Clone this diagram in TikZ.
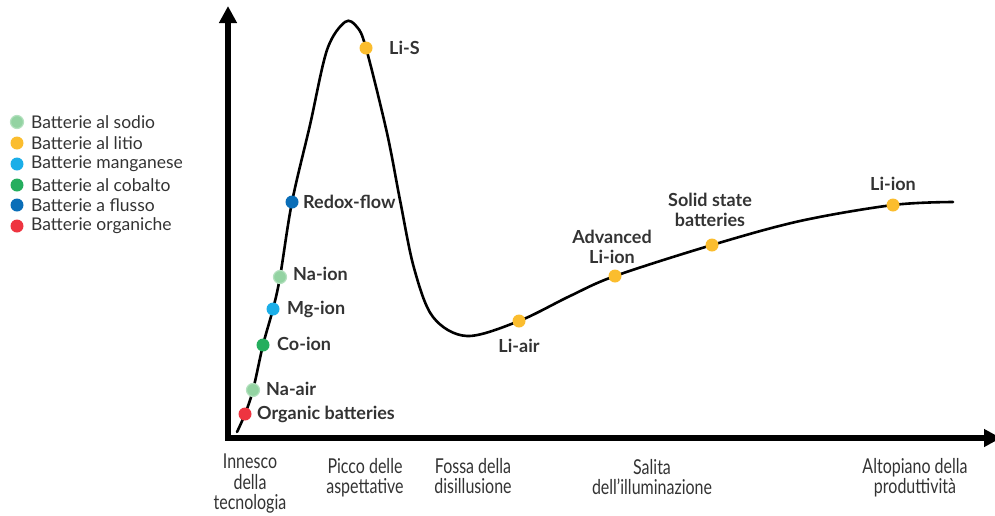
\documentclass[tikz,border=0pt]{standalone}
\usepackage{fontspec}
\setmainfont{Lato}
\newfontfamily\condfont[FakeStretch=0.78]{Lato}
\usetikzlibrary{arrows.meta}
\definecolor{sodio}{HTML}{93D3A2}
\definecolor{sodioedge}{HTML}{B4E1BF}
\definecolor{litio}{HTML}{FBBD2E}
\definecolor{mangan}{HTML}{1BAEE8}
\definecolor{cobalto}{HTML}{25AE5E}
\definecolor{flusso}{HTML}{0A6EB8}
\definecolor{organ}{HTML}{EE3440}
\definecolor{txt}{HTML}{333333}
\begin{document}
\begin{tikzpicture}[x=1pt,y=-1pt,
  dot/.style={circle,inner sep=0pt,minimum size=13pt},
  sdot/.style={dot,fill=sodio,draw=sodioedge,line width=1.2pt},
  lbl/.style={font=\fontsize{18}{20}\selectfont\bfseries,text=txt,inner sep=0pt},
  leg/.style={font=\fontsize{17.5}{19}\selectfont,text=txt,anchor=west,inner sep=0pt},
  ldot/.style={circle,inner sep=0pt,minimum size=13pt},
  axlbl/.style={font=\condfont\fontsize{20.5}{20.5}\selectfont,text=txt,align=center,inner sep=0pt,anchor=north},
  axis/.style={line width=6pt,line join=miter},
  curve/.style={line width=2.6pt,line cap=round}]
\useasboundingbox (0,0) rectangle (995,515);
% axes
\coordinate (ytop) at (228,6);
\coordinate (origin) at (228,438);
\coordinate (xend) at (1001,438);
\draw[axis,{Triangle[length=17pt,width=17pt]}-{Triangle[length=17pt,width=17pt]}] (ytop) -- (origin) -- (xend);
% curve
\draw[curve] plot[smooth,tension=0.55] coordinates {
 (237,432) (245,414) (253,390) (263,345) (273,309) (280,277) (292,202)
 (310,125) (327,50) (345,22) (357,27) (366,48) (387,133) (400,200) (414,268)
 (433,317) (467,336) (519,321) (570,296) (615,276) (712,245) (800,221)
 (893,205) (953,202)};
% dots
\node[dot,fill=organ] (org) at (245,414) {};
\node[sdot] (naair) at (253,390) {};
\node[dot,fill=cobalto] (coion) at (263,345) {};
\node[dot,fill=mangan] (mgion) at (273,309) {};
\node[sdot] (naion) at (280,277) {};
\node[dot,fill=flusso] (redox) at (292,202) {};
\node[dot,fill=litio] (lis) at (366,48) {};
\node[dot,fill=litio] (liair) at (519,321) {};
\node[dot,fill=litio] (advli) at (615,276) {};
\node[dot,fill=litio] (solid) at (712,245) {};
\node[dot,fill=litio] (liion) at (893,205) {};
% labels
\node[lbl,anchor=west] (torg) at (257,414) {Organic batteries};
\node[lbl,anchor=west] (tnaair) at (266,389) {Na-air};
\node[lbl,anchor=west] (tcoion) at (277,344) {Co-ion};
\node[lbl,anchor=west] (tmgion) at (287,309) {Mg-ion};
\node[lbl,anchor=west] (tnaion) at (293,274) {Na-ion};
\node[lbl,anchor=west] (tredox) at (303,202) {Redox-flow};
\node[lbl,anchor=west] (tlis) at (389,48) {Li-S};
\node[lbl] (tliair) at (519,346) {Li-air};
\node[lbl,align=center] (tadvli) at (612,247) {Advanced\\Li-ion};
\node[lbl,align=center] (tsolid) at (710,210) {Solid state\\batteries};
\node[lbl] (tliion) at (893,184) {Li-ion};
% legend
\node[ldot,fill=sodio,draw=sodioedge,line width=1.2pt] (lda) at (17,122) {};
\node[leg] (lta) at (31,122) {Batterie al sodio};
\foreach \c/\t/\y/\n in {litio/Batterie al litio/143/b,
  mangan/Batterie manganese/164/c, cobalto/Batterie al cobalto/185/d,
  flusso/Batterie a flusso/205/e, organ/Batterie organiche/226/f}{
  \node[ldot,fill=\c] (ld\n) at (17,\y) {};
  \node[leg] (lt\n) at (31,\y) {\t};
}
% axis labels
\node[axlbl] (x1) at (250,454) {Innesco\\della\\tecnologia};
\node[axlbl] (x2) at (365,458) {Picco delle\\aspettative};
\node[axlbl] (x3) at (473,458) {Fossa della\\disillusione};
\node[axlbl] (x4) at (652,459) {Salita\\dell’illuminazione};
\node[axlbl] (x5) at (915,458) {Altopiano della\\produttività};
\end{tikzpicture}
\end{document}
